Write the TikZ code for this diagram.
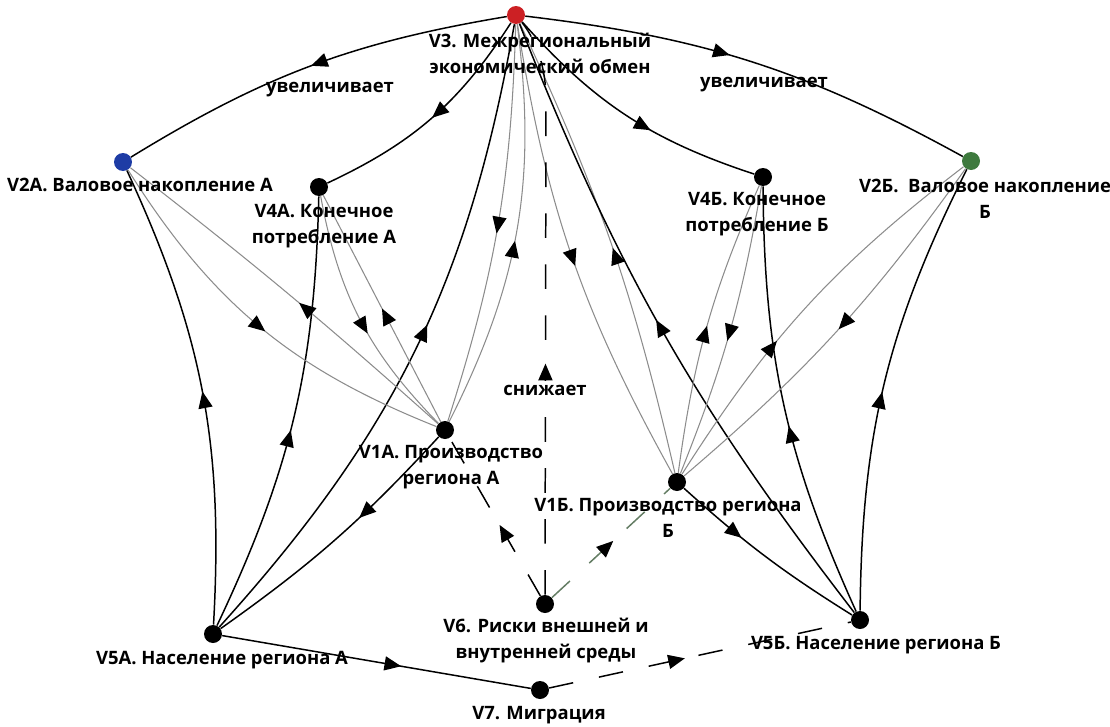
\documentclass[tikz,border=0pt]{standalone}
\usepackage{fontspec}
\setmainfont{Open Sans}
\usetikzlibrary{arrows.meta,decorations.markings}

\definecolor{vred}{RGB}{204,32,36}
\definecolor{vblue}{RGB}{30,60,165}
\definecolor{vgreen}{RGB}{62,122,62}
\definecolor{thinline}{RGB}{140,140,140}
\definecolor{riskline}{RGB}{100,125,100}

\tikzset{
  dot/.style={circle, fill=#1, inner sep=0pt, minimum size=0.36cm},
  dot/.default=black,
  lbl/.style={font=\bfseries\fontsize{10.5}{14.8}\selectfont, align=center, inner sep=1pt},
  flow/.style={draw=black, line width=0.85pt},
  weak/.style={draw=thinline, line width=0.6pt},
  risk/.style={draw=black, line width=0.85pt, dash pattern=on 14pt off 15pt},
  midarr/.style={postaction={decorate}, decoration={markings,
      mark=at position #1 with {\arrow[black]{Triangle[length=9.5pt,width=8pt]}}}},
  midarr/.default=0.5,
}

\begin{document}
\begin{tikzpicture}[x=0.02cm,y=-0.02cm]
\useasboundingbox (0,0) rectangle (1110,727);

% variables
\node[dot=vred]   (v3)  at (516,15)  {};
\node[dot=vblue]  (v2a) at (123,162) {};
\node[dot=vgreen] (v2b) at (971,161) {};
\node[dot] (v4a) at (319,187) {};
\node[dot] (v4b) at (763,177) {};
\node[dot] (v1a) at (445,430) {};
\node[dot] (v1b) at (677,482) {};
\node[dot] (v6)  at (545,604) {};
\node[dot] (v5a) at (213,634) {};
\node[dot] (v5b) at (860,620) {};
\node[dot] (v7)  at (540,690) {};

% interregional exchange
\draw[flow, midarr=0.5]  (v3) to[bend right=11] (v2a);
\draw[flow, midarr=0.45] (v3) to[bend left=11] (v2b);
\draw[flow, midarr=0.5]  (v3) to[bend left=16] (v4a);
\draw[flow, midarr=0.6]  (v3) to[bend right=15] (v4b);
\draw[weak, midarr=0.52] (v3) to[bend left=8] (v1a);
\draw[weak, midarr=0.47] (v1a) to[bend right=17] (v3);
\draw[weak, midarr=0.52] (v3) to[bend right=10] (v1b);
\draw[weak, midarr=0.49] (v1b) to[bend right=6] (v3);
\draw[flow, midarr=0.54] (v5a) to[bend right=16] (v3);
\draw[flow, midarr=0.52] (v5b) to[bend left=8] (v3);

% region A
\draw[flow, midarr=0.5]  (v5a) to[bend right=14] (v2a);
\draw[flow, midarr=0.47] (v5a) to[bend right=12] (v4a);
\draw[flow, midarr=0.39] (v1a) to[bend left=6] (v5a);
\draw[weak, midarr=0.46] (v1a) to[bend right=2] (v2a);
\draw[weak, midarr=0.52] (v2a) to[bend right=18] (v1a);
\draw[weak, midarr=0.56] (v4a) to[bend right=17] (v1a);
\draw[weak, midarr=0.5]  (v1a) to (v4a);

% region B
\draw[flow, midarr=0.45] (v5b) to[bend left=12] (v4b);
\draw[flow, midarr=0.48] (v5b) to[bend left=13] (v2b);
\draw[flow, midarr=0.36] (v1b) to[bend right=5] (v5b);
\draw[weak, midarr=0.5]  (v1b) to[bend left=8] (v4b);
\draw[weak, midarr=0.53] (v4b) to[bend left=6] (v1b);
\draw[weak, midarr=0.39] (v1b) to[bend left=10] (v2b);
\draw[weak, midarr=0.49] (v2b) to[bend left=7] (v1b);

% risks and migration
\draw[flow, midarr=0.58] (v5a) -- (v7);
\draw[risk, midarr=0.45] (v7) -- (v5b);
\draw[risk, midarr=0.45] (v6) -- (v1a);
\draw[risk, draw=riskline, midarr=0.52] (v6) -- (v1b);
\draw[risk, midarr=0.40] (v6) -- (546,100) .. controls (546,55) and (528,30) .. (v3);
\node[lbl, fill=white, inner sep=2pt] (tsn) at (545,390) {снижает};

% labels
\node[lbl] (t3)  at (540,53)  {V3. Межрегиональный\\экономический обмен};
\node[lbl] (tu1) at (330,90)  {увеличивает};
\node[lbl] (tu2) at (764,85)  {увеличивает};
\node[lbl] (t2a) at (140,185) {V2А. Валовое накопление А};
\node[lbl] (t4a) at (324,226) {V4А. Конечное\\потребление А};
\node[lbl] (t4b) at (757,214) {V4Б. Конечное\\потребление Б};
\node[lbl] (t2b) at (985,199) {V2Б.\ \ Валовое накопление\\Б};
\node[lbl] (t1a) at (451,467) {V1А. Производство\\региона А};
\node[lbl] (t1b) at (668,518) {V1Б. Производство региона\\Б};
\node[lbl] (t6)  at (546,641) {V6. Риски внешней и\\внутренней среды};
\node[lbl] (t5a) at (222,660) {V5А. Население региона А};
\node[lbl] (t5b) at (876,645) {V5Б. Население региона Б};
\node[lbl] (t7)  at (539,715) {V7. Миграция};
\end{tikzpicture}
\end{document}
